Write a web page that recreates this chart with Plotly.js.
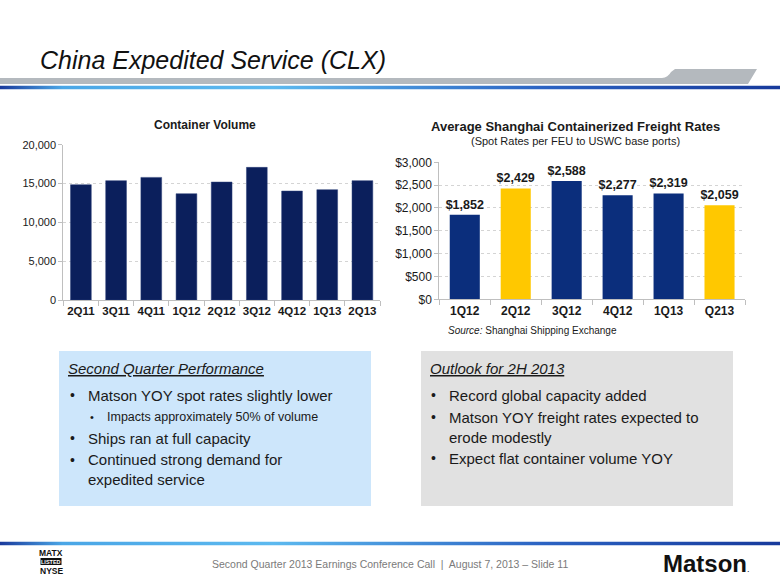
<!DOCTYPE html>
<html>
<head>
<meta charset="utf-8">
<script src="https://cdn.plot.ly/plotly-3.0.1.min.js"></script>
<style>
html,body{margin:0;padding:0;background:#fff;}
#chart{width:780px;height:585px;}
</style>
</head>
<body>
<div id="chart"></div>
<script>
// ---- Data ----
const volCategories = ['2Q11', '3Q11', '4Q11', '1Q12', '2Q12', '3Q12', '4Q12', '1Q13', '2Q13'];
const volValues = [14850, 15370, 15790, 13690, 15190, 17080, 14030, 14210, 15370];
const volTicks = [0, 5000, 10000, 15000, 20000];
const volTickText = ['0', '5,000', '10,000', '15,000', '20,000'];

const rateCategories = ['1Q12', '2Q12', '3Q12', '4Q12', '1Q13', 'Q213'];
const rateValues = [1852, 2429, 2588, 2277, 2319, 2059];
const rateHighlight = [false, true, false, false, false, true];
const rateTicks = [0, 500, 1000, 1500, 2000, 2500, 3000];
const rateTickText = ['$0', '$500', '$1,000', '$1,500', '$2,000', '$2,500', '$3,000'];

const leftBullets = ['Matson YOY spot rates slightly lower', 'Ships ran at full capacity', 'Continued strong demand for<br>expedited service'];
const leftSub = 'Impacts approximately 50% of volume';
const rightBullets = ['Record global capacity added', 'Matson YOY freight rates expected to<br>erode modestly', 'Expect flat container volume YOY'];

// ---- helpers ----
const W = 780, H = 585;
const px = x => x / W;
const py = y => 1 - y / H;
const FONT = 'Liberation Sans, Arial, sans-serif';
const NAVY = '#0b1f5c';
const BLUE = '#0b2e7c';
const YELLOW = '#ffc800';

function gradSvg() {
  const s = '<svg xmlns="http://www.w3.org/2000/svg" width="780" height="4" preserveAspectRatio="none">' +
    '<defs><linearGradient id="g" x1="0" x2="1" y1="0" y2="0">' +
    '<stop offset="0" stop-color="#1a3a9c"/>' +
    '<stop offset="0.08" stop-color="#4aa6e6"/>' +
    '<stop offset="0.35" stop-color="#5cb9ef"/>' +
    '<stop offset="0.7" stop-color="#2b62c2"/>' +
    '<stop offset="1" stop-color="#173a9c"/>' +
    '</linearGradient></defs><rect width="780" height="4" fill="url(#g)"/></svg>';
  return 'data:image/svg+xml;charset=utf-8,' + encodeURIComponent(s);
}

const traces = [
  {
    type: 'bar', x: volCategories, y: volValues, xaxis: 'x', yaxis: 'y',
    marker: {color: NAVY, line: {color: '#2a3f78', width: 0.5}},
    hoverinfo: 'skip'
  },
  {
    type: 'bar', x: rateCategories, y: rateValues, xaxis: 'x2', yaxis: 'y2',
    marker: {color: rateHighlight.map(h => h ? YELLOW : BLUE)},
    texttemplate: '$%{y:,}', textposition: 'outside', cliponaxis: false, constraintext: 'none',
    textfont: {family: FONT, size: 12.5, color: '#1a1a1a', weight: 'bold'},
    hoverinfo: 'skip'
  }
];

const axisCommon = {
  showline: true, linecolor: '#bfbfbf', linewidth: 1,
  ticks: 'outside', tickcolor: '#bfbfbf', ticklen: 4,
  zeroline: false, fixedrange: true
};

const annotations = [];
function txt(x, y, text, size, opts) {
  annotations.push(Object.assign({
    xref: 'paper', yref: 'paper', x: px(x), y: py(y), text: text,
    showarrow: false, xanchor: 'left', yanchor: 'middle', align: 'left',
    font: {family: FONT, size: size, color: '#1a1a1a'}
  }, opts || {}));
}

// Title
txt(38, 60, '<i>China Expedited Service (CLX)</i>', 25, {font: {family: FONT, size: 25, color: '#111'}});
// chart titles
txt(205, 125, '<b>Container Volume</b>', 12, {xanchor: 'center', align: 'center'});
txt(575, 126, '<b>Average Shanghai Containerized Freight Rates</b>', 13, {xanchor: 'center', align: 'center'});
txt(575, 141, '(Spot Rates per FEU to USWC base ports)', 11, {xanchor: 'center', align: 'center'});
txt(446, 330, '<i>Source:</i> Shanghai Shipping Exchange', 10);

// Left box text
txt(66, 368, '<span style="text-decoration:underline"><i>Second Quarter Performance</i></span>', 15);
txt(68, 395, '•', 14);
txt(86, 395, leftBullets[0], 15);
txt(88, 417, '•', 11);
txt(105, 417, leftSub, 12.5);
txt(68, 438, '•', 14);
txt(86, 438, leftBullets[1], 15);
txt(68, 460, '•', 14);
txt(86, 469, leftBullets[2], 15);

// Right box text
txt(428, 368, '<span style="text-decoration:underline"><i>Outlook for 2H 2013</i></span>', 15);
txt(429, 395, '•', 14);
txt(447, 395, rightBullets[0], 15);
txt(429, 417, '•', 14);
txt(447, 427, rightBullets[1], 15);
txt(429, 458, '•', 14);
txt(447, 458, rightBullets[2], 15);

// Footer
txt(390, 564, 'Second Quarter 2013 Earnings Conference Call  |  August 7, 2013 – Slide 11', 10.5,
    {xanchor: 'center', align: 'center', font: {family: FONT, size: 10.5, color: '#7a7a7a'}});
txt(51, 552.5, '<b>MATX</b>', 8.5, {xanchor: 'center', align: 'center', font: {family: 'Liberation Sans Narrow, ' + FONT, size: 8.5, color: '#111'}});
txt(51, 561.5, '<b>LISTED</b>', 5.5, {xanchor: 'center', align: 'center', font: {family: FONT, size: 5.5, color: '#fff'}});
txt(51, 570.5, '<b>NYSE</b>', 8.5, {xanchor: 'center', align: 'center', font: {family: 'Liberation Sans Narrow, ' + FONT, size: 8.5, color: '#111'}});
txt(706, 563, '<b>Matson</b><span style="font-size:9px">.</span>', 24, {xanchor: 'center', align: 'center', font: {family: FONT, size: 24, color: '#111'}});

const shapes = [
  // gray header band
  {type: 'path', xref: 'paper', yref: 'paper', layer: 'below',
   path: `M 0 ${py(78)} L ${px(662)} ${py(78)} Q ${px(668)} ${py(77.5)} ${px(671)} ${py(72)} L ${px(675)} ${py(69)} L ${px(757)} ${py(69)} L ${px(748)} ${py(84)} L 0 ${py(84)} Z`,
   fillcolor: '#b4b9be', line: {width: 0}},
  // left box
  {type: 'rect', xref: 'paper', yref: 'paper', layer: 'below',
   x0: px(59), x1: px(371), y0: py(351), y1: py(506), fillcolor: '#cde6fb', line: {width: 0}},
  // right box
  {type: 'rect', xref: 'paper', yref: 'paper', layer: 'below',
   x0: px(421), x1: px(733), y0: py(351), y1: py(506), fillcolor: '#e1e1e1', line: {width: 0}},
  // LISTED black box
  {type: 'rect', xref: 'paper', yref: 'paper', layer: 'above',
   x0: px(40.5), x1: px(61.5), y0: py(565), y1: py(558), fillcolor: '#111', line: {width: 0}}
];

const images = [
  {source: gradSvg(), xref: 'paper', yref: 'paper', x: 0, y: py(85.5), sizex: 1, sizey: 4 / H,
   sizing: 'stretch', xanchor: 'left', yanchor: 'top', layer: 'above'},
  {source: gradSvg(), xref: 'paper', yref: 'paper', x: 0, y: py(541.5), sizex: 1, sizey: 4 / H,
   sizing: 'stretch', xanchor: 'left', yanchor: 'top', layer: 'above'}
];

const layout = {
  width: W, height: H,
  margin: {l: 0, r: 0, t: 0, b: 0},
  paper_bgcolor: '#ffffff', plot_bgcolor: 'rgba(0,0,0,0)',
  showlegend: false,
  font: {family: FONT, color: '#1a1a1a'},
  xaxis: Object.assign({}, axisCommon, {
    domain: [px(63.3), px(380)], anchor: 'y', type: 'category', tickson: 'boundaries', ticklen: 5,
    tickangle: 0, tickfont: {family: FONT, size: 11.5, color: '#1a1a1a', weight: 'bold'}, showgrid: false
  }),
  yaxis: Object.assign({}, axisCommon, {
    domain: [py(300), py(144.7)], anchor: 'x', range: [0, 20000],
    tickmode: 'array', tickvals: volTicks, ticktext: volTickText,
    tickfont: {family: FONT, size: 11, color: '#1a1a1a'},
    showgrid: true, gridcolor: '#d4d4d4', griddash: 'dot', gridwidth: 1
  }),
  xaxis2: Object.assign({}, axisCommon, {
    domain: [px(439.3), px(745)], anchor: 'y2', type: 'category', tickson: 'boundaries', ticklen: 5,
    tickangle: 0, tickfont: {family: FONT, size: 12, color: '#1a1a1a', weight: 'bold'}, showgrid: false
  }),
  yaxis2: Object.assign({}, axisCommon, {
    domain: [py(299.3), py(162.3)], anchor: 'x2', range: [0, 3000],
    tickmode: 'array', tickvals: rateTicks, ticktext: rateTickText,
    tickfont: {family: FONT, size: 12, color: '#1a1a1a'},
    showgrid: true, gridcolor: '#d4d4d4', griddash: 'dot', gridwidth: 1
  }),
  bargap: 0.41,
  annotations: annotations,
  shapes: shapes,
  images: images
};

Plotly.newPlot('chart', traces, layout, {staticPlot: true, displayModeBar: false});
</script>
</body>
</html>
